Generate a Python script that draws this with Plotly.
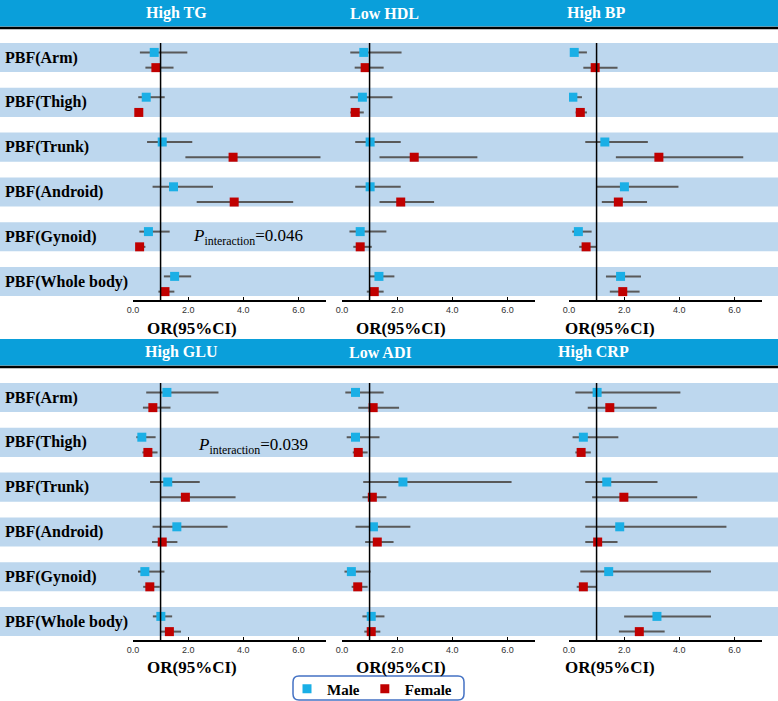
import plotly.graph_objects as go

W, H = 778, 701

# rows (top to bottom)
rows = ["PBF(Arm)", "PBF(Thigh)", "PBF(Trunk)", "PBF(Android)", "PBF(Gynoid)", "PBF(Whole body)"]
panels = ["High TG", "Low HDL", "High BP", "High GLU", "Low ADI", "High CRP"]

# odds ratio, lower CI, upper CI for each panel, in row order
tg_male = [0.77, 0.48, 1.06, 1.47, 0.56, 1.51]
tg_male_lo = [0.25, 0.19, 0.51, 0.71, 0.23, 1.12]
tg_male_hi = [1.97, 1.15, 2.15, 2.90, 1.33, 2.11]
tg_female = [0.83, 0.21, 3.63, 3.67, 0.24, 1.16]
tg_female_lo = [0.45, 0.11, 1.90, 2.31, 0.13, 0.92]
tg_female_hi = [1.47, 0.31, 6.80, 5.81, 0.45, 1.50]

hdl_male = [0.79, 0.74, 1.02, 1.02, 0.66, 1.34]
hdl_male_lo = [0.30, 0.30, 0.48, 0.48, 0.27, 1.01]
hdl_male_hi = [2.16, 1.83, 2.13, 2.13, 1.61, 1.90]
hdl_female = [0.84, 0.48, 2.62, 2.13, 0.66, 1.17]
hdl_female_lo = [0.46, 0.30, 1.36, 1.36, 0.41, 0.90]
hdl_female_hi = [1.51, 0.79, 4.91, 3.34, 1.08, 1.51]

bp_male = [0.19, 0.14, 1.30, 2.01, 0.34, 1.87]
bp_male_lo = [0.05, 0.04, 0.59, 1.01, 0.12, 1.34]
bp_male_hi = [0.65, 0.47, 2.86, 3.97, 0.82, 2.61]
bp_female = [0.95, 0.41, 3.26, 1.79, 0.62, 1.95]
bp_female_lo = [0.52, 0.24, 1.70, 1.19, 0.37, 1.48]
bp_female_hi = [1.76, 0.65, 6.32, 2.83, 0.99, 2.56]

glu_male = [1.23, 0.32, 1.26, 1.59, 0.43, 1.01]
glu_male_lo = [0.48, 0.12, 0.62, 0.71, 0.18, 0.72]
glu_male_hi = [3.10, 0.82, 2.42, 3.43, 1.14, 1.42]
glu_female = [0.72, 0.54, 1.90, 1.06, 0.61, 1.32]
glu_female_lo = [0.36, 0.34, 1.01, 0.69, 0.37, 1.00]
glu_female_hi = [1.36, 0.89, 3.72, 1.61, 0.97, 1.74]

adi_male = [0.49, 0.49, 2.21, 1.14, 0.34, 1.06]
adi_male_lo = [0.12, 0.17, 0.77, 0.49, 0.09, 0.74]
adi_male_hi = [1.51, 1.36, 6.15, 2.48, 1.04, 1.54]
adi_female = [1.13, 0.59, 1.10, 1.28, 0.57, 1.06]
adi_female_lo = [0.59, 0.39, 0.74, 0.84, 0.35, 0.81]
adi_female_hi = [2.07, 0.93, 1.61, 1.87, 0.93, 1.39]

crp_male = [1.02, 0.52, 1.37, 1.84, 1.44, 3.19]
crp_male_lo = [0.23, 0.13, 0.59, 0.59, 0.41, 2.00]
crp_male_hi = [4.04, 1.79, 3.21, 5.71, 5.15, 5.15]
crp_female = [1.48, 0.44, 1.99, 1.04, 0.52, 2.55]
crp_female_lo = [0.68, 0.23, 0.84, 0.59, 0.28, 1.81]
crp_female_hi = [3.18, 0.79, 4.65, 1.76, 0.99, 3.47]

tick_vals = [0, 2, 4, 6]
tick_text = ["0.0", "2.0", "4.0", "6.0"]
p_text = ["<i>P</i><sub>interaction</sub>=0.046", "<i>P</i><sub>interaction</sub>=0.039"]

data = [
    (tg_male, tg_male_lo, tg_male_hi, tg_female, tg_female_lo, tg_female_hi),
    (hdl_male, hdl_male_lo, hdl_male_hi, hdl_female, hdl_female_lo, hdl_female_hi),
    (bp_male, bp_male_lo, bp_male_hi, bp_female, bp_female_lo, bp_female_hi),
    (glu_male, glu_male_lo, glu_male_hi, glu_female, glu_female_lo, glu_female_hi),
    (adi_male, adi_male_lo, adi_male_hi, adi_female, adi_female_lo, adi_female_hi),
    (crp_male, crp_male_lo, crp_male_hi, crp_female, crp_female_lo, crp_female_hi),
]

MALE = "#1AAFE6"
FEMALE = "#C00000"
BAND = "#BDD7EE"
HEAD = "#0A9FDA"
SERIF = "Liberation Serif, Times New Roman, serif"

def px(x):
    return x / W

def py(y):
    return 1 - y / H

x_dom = [(133, 326), (342, 535), (569, 762)]
sections = [(43, 300), (383, 640)]  # top of first band, axis line
y_end = 5.737
male_off, female_off, band_h = 0.21, 0.55, 0.65

fig = go.Figure()

for k, (m, mlo, mhi, f, flo, fhi) in enumerate(data):
    xa = "x" if k == 0 else f"x{k+1}"
    ya = "y" if k < 3 else "y2"
    fig.add_trace(go.Scatter(
        x=m, y=[i + male_off for i in range(len(rows))],
        xaxis=xa, yaxis=ya, mode="markers", name="Male",
        marker=dict(symbol="square", size=9, color=MALE),
        error_x=dict(type="data", symmetric=False,
                     array=[h - v for h, v in zip(mhi, m)],
                     arrayminus=[v - l for v, l in zip(m, mlo)],
                     color="#595959", thickness=2, width=0),
        showlegend=(k == 0), legendgroup="m", hoverinfo="skip"))
    fig.add_trace(go.Scatter(
        x=f, y=[i + female_off for i in range(len(rows))],
        xaxis=xa, yaxis=ya, mode="markers", name="Female",
        marker=dict(symbol="square", size=9, color=FEMALE),
        error_x=dict(type="data", symmetric=False,
                     array=[h - v for h, v in zip(fhi, f)],
                     arrayminus=[v - l for v, l in zip(f, flo)],
                     color="#595959", thickness=2, width=0),
        showlegend=(k == 0), legendgroup="f", hoverinfo="skip"))

layout = dict(
    width=W, height=H, margin=dict(l=0, r=0, t=0, b=0, autoexpand=False),
    paper_bgcolor="white", plot_bgcolor="rgba(0,0,0,0)",
    showlegend=True,
    legend=dict(orientation="h", x=px(372), xanchor="center", y=py(689), yanchor="middle",
                borderwidth=0, bgcolor="rgba(0,0,0,0)",
                font=dict(family=SERIF, size=15, color="black", weight="bold"),
                itemwidth=30, tracegroupgap=0),
)

for s, (top, bottom) in enumerate(sections):
    key = "yaxis" if s == 0 else "yaxis2"
    layout[key] = dict(domain=[py(bottom), py(top)], range=[y_end, 0],
                       visible=False, fixedrange=True)

for k in range(6):
    key = "xaxis" if k == 0 else f"xaxis{k+1}"
    d = x_dom[k % 3]
    layout[key] = dict(
        domain=[px(d[0]), px(d[1])], range=[0, 7],
        anchor="y" if k < 3 else "y2",
        showline=True, linecolor="black", linewidth=1.5,
        showgrid=False, zeroline=False,
        tickvals=tick_vals, ticktext=tick_text,
        ticks="inside", ticklen=3, tickcolor="black",
        tickfont=dict(family="Liberation Sans, Arial", size=9, color="#333"),
    )

fig.update_layout(**layout)

shapes = []
annotations = []
for s, (top, bottom) in enumerate(sections):
    ya = "y" if s == 0 else "y2"
    for i in range(len(rows)):
        shapes.append(dict(type="rect", xref="paper", yref=ya, x0=0, x1=1,
                           y0=i, y1=i + band_h, fillcolor=BAND, line_width=0, layer="below"))
        annotations.append(dict(xref="paper", yref=ya, x=px(3), y=i + band_h / 2,
                                text=rows[i], showarrow=False, xanchor="left", yanchor="middle",
                                font=dict(family=SERIF, size=16, color="black", weight="bold")))
    for j in range(3):
        xa = "x" if s * 3 + j == 0 else f"x{s*3+j+1}"
        shapes.append(dict(type="line", xref=xa, yref=ya, x0=1, x1=1, y0=0, y1=y_end,
                           line=dict(color="black", width=1.5)))

# header bands
for top in (0, 339):
    shapes.append(dict(type="rect", xref="paper", yref="paper", x0=0, x1=1,
                       y0=py(top + 26.5), y1=py(top), fillcolor=HEAD, line_width=0, layer="below"))
    shapes.append(dict(type="line", xref="paper", yref="paper", x0=0, x1=1,
                       y0=py(top + 28), y1=py(top + 28), line=dict(color="black", width=2.5)))

# rounded legend frame
lx0, lx1, ly0, ly1, r = 293, 464, 676, 700, 6
path = (f"M {px(lx0 + r)},{py(ly0)} L {px(lx1 - r)},{py(ly0)} "
        f"Q {px(lx1)},{py(ly0)} {px(lx1)},{py(ly0 + r)} L {px(lx1)},{py(ly1 - r)} "
        f"Q {px(lx1)},{py(ly1)} {px(lx1 - r)},{py(ly1)} L {px(lx0 + r)},{py(ly1)} "
        f"Q {px(lx0)},{py(ly1)} {px(lx0)},{py(ly1 - r)} L {px(lx0)},{py(ly0 + r)} "
        f"Q {px(lx0)},{py(ly0)} {px(lx0 + r)},{py(ly0)} Z")
shapes.append(dict(type="path", xref="paper", yref="paper", path=path,
                   line=dict(color="#4472C4", width=1.5), fillcolor="white", layer="below"))

title_x = [176, 384, 596, 181, 380, 593]
or_x = [192, 401, 610]
for k, name in enumerate(panels):
    top = 0 if k < 3 else 339
    annotations.append(dict(xref="paper", yref="paper", x=px(title_x[k]), y=py(top + 13),
                            text=name, showarrow=False, xanchor="center", yanchor="middle",
                            font=dict(family=SERIF, size=16, color="white", weight="bold")))
for s, yy in enumerate((328, 667)):
    for j in range(3):
        annotations.append(dict(xref="paper", yref="paper", x=px(or_x[j]), y=py(yy),
                                text="OR(95%CI)", showarrow=False, xanchor="center", yanchor="middle",
                                font=dict(family=SERIF, size=17, color="black", weight="bold")))

annotations.append(dict(xref="paper", yref="paper", x=px(191), y=py(237), text=p_text[0],
                        showarrow=False, xanchor="left", yanchor="middle",
                        font=dict(family=SERIF, size=17, color="black")))
annotations.append(dict(xref="paper", yref="paper", x=px(196), y=py(446), text=p_text[1],
                        showarrow=False, xanchor="left", yanchor="middle",
                        font=dict(family=SERIF, size=17, color="black")))

fig.update_layout(shapes=shapes, annotations=annotations)
fig.write_html("out.html", config={"displayModeBar": False},
               post_script="document.body.style.margin='0';document.body.style.overflow='hidden';")
